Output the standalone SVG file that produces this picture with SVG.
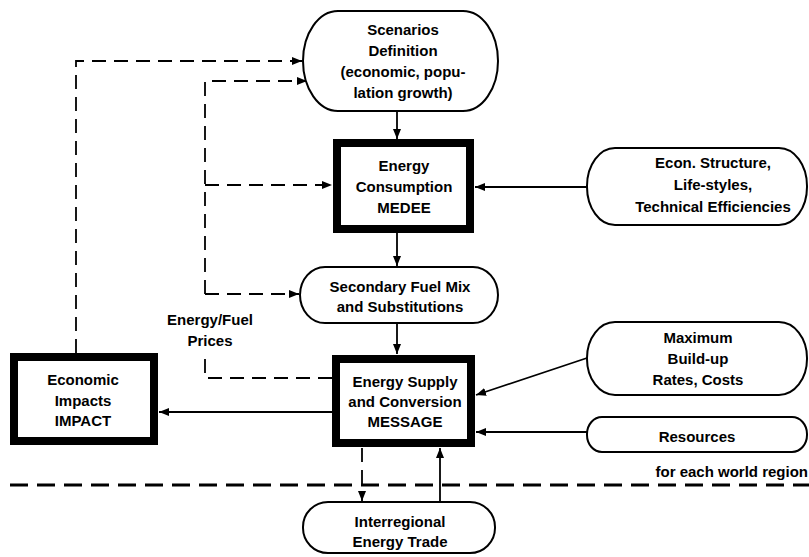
<svg xmlns="http://www.w3.org/2000/svg" width="809" height="557" viewBox="0 0 809 557">
<defs>
<marker id="ah" viewBox="0 0 10 8" refX="10" refY="4" markerWidth="10" markerHeight="8" markerUnits="userSpaceOnUse" orient="auto">
<path d="M0,0 L10,4 L0,8 Z" fill="#000"/>
</marker>
</defs>
<style>
.t{font-family:"Liberation Sans",Arial,sans-serif;font-size:15px;font-weight:bold;fill:#000;text-anchor:middle}
.st{fill:#fff;stroke:#000;stroke-width:2}
.bx{fill:#fff;stroke:#000;stroke-width:8}
.c{fill:none;stroke:#000;stroke-width:1.8}
.d{fill:none;stroke:#000;stroke-width:1.8;stroke-dasharray:14 8}
.sep{fill:none;stroke:#000;stroke-width:3;stroke-dasharray:18 9}
</style>
<rect width="809" height="557" fill="#fff"/>
<g id="connectors">
<line class="c" x1="397" y1="112" x2="397" y2="139" marker-end="url(#ah)"/>
<line class="c" x1="397" y1="233" x2="397" y2="266" marker-end="url(#ah)"/>
<line class="c" x1="397" y1="323" x2="397" y2="354" marker-end="url(#ah)"/>
<line class="c" x1="587" y1="187" x2="475" y2="187" marker-end="url(#ah)"/>
<line class="c" x1="587" y1="358" x2="476" y2="395" marker-end="url(#ah)"/>
<line class="c" x1="587" y1="432" x2="476" y2="432" marker-end="url(#ah)"/>
<line class="c" x1="332" y1="412" x2="159" y2="412" marker-end="url(#ah)"/>
<line class="c" x1="440" y1="502" x2="440" y2="448" marker-end="url(#ah)"/>
<line class="d" x1="362" y1="448" x2="362" y2="501" marker-end="url(#ah)"/>
<polyline class="d" points="76,353 76,61 302,61" marker-end="url(#ah)"/>
<polyline class="d" points="332,378 205,378 205,357"/>
<polyline class="d" points="205,294 205,81 307,81" marker-end="url(#ah)"/>
<line class="d" x1="205" y1="185" x2="332" y2="185" marker-end="url(#ah)"/>
<line class="d" x1="205" y1="294" x2="299" y2="294" marker-end="url(#ah)"/>
<line class="sep" x1="10" y1="485" x2="809" y2="485"/>
<text class="t" x="210" y="325">Energy/Fuel</text>
<text class="t" x="210" y="346">Prices</text>
<text class="t" x="808" y="477" style="text-anchor:end">for each world region</text>
</g>
<g id="scenarios">
<rect class="st" x="303" y="11" width="195" height="100" rx="35" ry="50"/>
<text class="t" x="403" y="35">Scenarios</text>
<text class="t" x="403" y="56">Definition</text>
<text class="t" x="403" y="77">(economic, popu-</text>
<text class="t" x="403" y="98">lation growth)</text>
</g>
<g id="medee">
<rect class="bx" x="337" y="143" width="133" height="86"/>
<text class="t" x="404" y="171">Energy</text>
<text class="t" x="404" y="192">Consumption</text>
<text class="t" x="404" y="213">MEDEE</text>
</g>
<g id="econstructure">
<rect class="st" x="587" y="148" width="220" height="77" rx="28" ry="38"/>
<text class="t" x="713" y="168">Econ. Structure,</text>
<text class="t" x="713" y="190">Life-styles,</text>
<text class="t" x="713" y="212">Technical Efficiencies</text>
</g>
<g id="secondaryfuel">
<rect class="st" x="300" y="267" width="198" height="56" rx="25" ry="28"/>
<text class="t" x="400" y="292">Secondary Fuel Mix</text>
<text class="t" x="400" y="312">and Substitutions</text>
</g>
<g id="message">
<rect class="bx" x="336" y="359" width="135" height="84"/>
<text class="t" x="405" y="387">Energy Supply</text>
<text class="t" x="405" y="407">and Conversion</text>
<text class="t" x="405" y="427">MESSAGE</text>
</g>
<g id="impact">
<rect class="bx" x="14" y="357" width="140" height="84"/>
<text class="t" x="83" y="385">Economic</text>
<text class="t" x="83" y="406">Impacts</text>
<text class="t" x="83" y="426">IMPACT</text>
</g>
<g id="buildup">
<rect class="st" x="587" y="322" width="220" height="73" rx="28" ry="36"/>
<text class="t" x="698" y="343">Maximum</text>
<text class="t" x="698" y="364">Build-up</text>
<text class="t" x="698" y="385">Rates, Costs</text>
</g>
<g id="resources">
<rect class="st" x="587" y="417" width="220" height="35" rx="15" ry="17"/>
<text class="t" x="697" y="442">Resources</text>
</g>
<g id="interregional">
<rect class="st" x="303" y="502" width="192" height="51" rx="25" ry="25"/>
<text class="t" x="400" y="527">Interregional</text>
<text class="t" x="400" y="547">Energy Trade</text>
</g>
</svg>
